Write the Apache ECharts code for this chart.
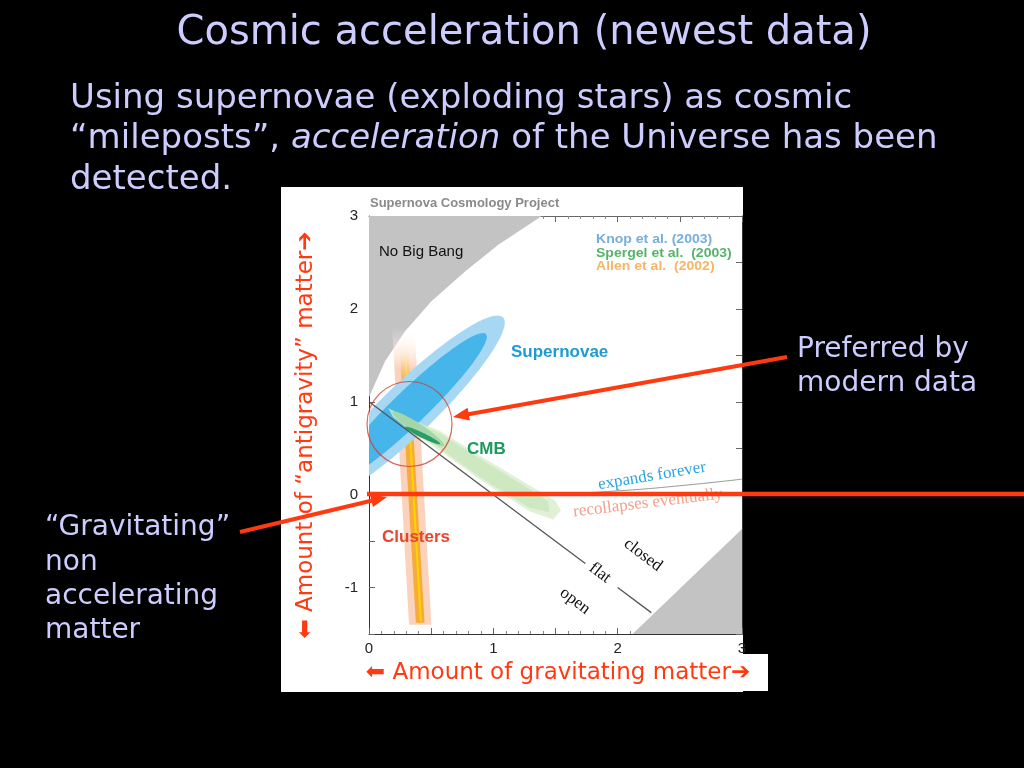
<!DOCTYPE html>
<html><head><meta charset="utf-8">
<script src="https://cdn.jsdelivr.net/npm/echarts@6/dist/echarts.min.js"></script>
<style>html,body{margin:0;padding:0;background:#000;}#c{width:1024px;height:768px;}</style>
</head><body><div id="c"></div>
<script>
// ---------------- data ----------------
const xTicks = [0, 1, 2, 3];
const yTicks = [-1, 0, 1, 2, 3];
// "No Big Bang" region (upper left) and lower-right excluded region
const noBigBang = [[0,1.05],[0.02,1.11],[0.13,1.44],[0.29,1.76],[0.5,2.08],[0.77,2.4],[1.04,2.69],[1.39,3.0],[0,3.0]];
const lowerRight = [[2.12,-1.5],[3,-1.5],[3,-0.37]];
// flat universe line (Omega_M + Omega_L = 1), broken where "flat" is written
const flatA = [[0,1],[1.74,-0.74]];
const flatB = [[2.0,-1.0],[2.27,-1.27]];
// expands forever / recollapses boundary
const expandBoundary = [[1,0],[1.5,0.009],[2,0.041],[2.5,0.096],[3,0.167]];
// Supernovae confidence ellipses (outer, inner): centre, major half-axis, minor half-axis (data units)
const snCenter = [[0.3274,0.9378],[0.3274,0.9378]];
const snMajor  = [[0.7506,0.970],[0.6123,0.7908]];
const snMinor  = [[0.1456,-0.2001],[0.0952,-0.1308]];
// CMB contours
const cmbOuter = [[0.153,0.932],[0.33,0.815],[0.571,0.686],[0.893,0.418],[1.295,0.096],[1.496,-0.064],[1.545,-0.171],[1.48,-0.268],[1.295,-0.182],[0.893,0.161],[0.571,0.472],[0.33,0.686],[0.193,0.836]];
const cmbMid = [[0.33,0.79],[0.57,0.66],[0.89,0.39],[1.29,0.06],[1.44,-0.07],[1.45,-0.19],[1.29,-0.14],[0.89,0.19],[0.57,0.50],[0.33,0.70]];
const cmbCoreCenter = [[0.398,0.7075],[0.4305,0.638]];
const cmbCoreMajor  = [[0.205,-0.1825],[0.1405,-0.091]];
const cmbCoreMinor  = [[-0.0224,-0.0446],[-0.0088,-0.0241]];
// Clusters band
const clusterOuter  = [[0.186,1.8],[0.366,1.8],[0.502,-1.4],[0.322,-1.4]];
const clusterInner  = [[0.243,1.65],[0.313,1.65],[0.447,-1.38],[0.377,-1.38]];
const clusterStripe = [[0.281,1.6],[0.297,1.6],[0.425,-1.36],[0.409,-1.36]];
// preferred region marker
const preferred = [[0.326,0.761]];

// ---------------- helpers ----------------
function clipOf(params){const c=params.coordSys;return {type:'rect',shape:{x:c.x,y:c.y,width:c.width,height:c.height}};}
function polyItem(api, params, pts, fill){
  return {type:'polygon', shape:{points:pts.map(p=>api.coord(p))}, style:{fill:fill}, clipPath:clipOf(params)};
}
function ellipseItem(api, params, c, u, v, fill){
  const pts=[];
  for(let k=0;k<120;k++){const t=k/120*2*Math.PI;
    pts.push(api.coord([c[0]+u[0]*Math.cos(t)+v[0]*Math.sin(t), c[1]+u[1]*Math.cos(t)+v[1]*Math.sin(t)]));}
  return {type:'polygon', shape:{points:pts}, style:{fill:fill}, clipPath:clipOf(params)};
}
function fadeTop(col){
  return new echarts.graphic.LinearGradient(0,0,0,1,[{offset:0,color:'rgba(255,255,255,0)'},{offset:0.14,color:col},{offset:1,color:col}]);
}

const RED='#ff3a10', LAV='#ccccff';
const snFill=['#a6d7f3','#45b5ea'];
const cmbCoreFill=['#a3d6a8','#2c9c66'];

function arrow(x1,y1,x2,y2,w){
  const dx=x2-x1, dy=y2-y1, L=Math.hypot(dx,dy), ux=dx/L, uy=dy/L, hl=16, hw=6.5;
  const bx=x2-ux*hl, by=y2-uy*hl;
  return [
    {type:'line', z:100, shape:{x1:x1,y1:y1,x2:bx+ux*2,y2:by+uy*2}, style:{stroke:RED, lineWidth:w}},
    {type:'polygon', z:100, shape:{points:[[x2,y2],[bx-uy*hw,by+ux*hw],[bx+uy*hw,by-ux*hw]]}, style:{fill:RED}}
  ];
}
function txt(x,y,text,o){
  return {type:'text', x:x, y:y, z:100, style:Object.assign({text:text, fill:LAV, fontSize:28, fontFamily:'DejaVu Sans', align:'left', textAlign:'left', verticalAlign:'middle', textVerticalAlign:'middle'}, o||{})};
}

const chart = echarts.init(document.getElementById('c'), null, {renderer:'canvas'});
const axisCommon = {
  type:'value', splitLine:{show:false},
  axisLine:{show:true, onZero:false, lineStyle:{color:'#333', width:1}},
  axisTick:{show:true, inside:true, length:6, lineStyle:{color:'#666'}}
};
const option = {
  backgroundColor:'#000',
  animation:false,
  grid:{left:369, right:282, top:216, bottom:134, containLabel:false},
  xAxis:[
    Object.assign({}, axisCommon, {min:0, max:3, interval:0.5, position:'bottom',
      minorTick:{show:true, splitNumber:5, length:3, lineStyle:{color:'#888'}},
      axisLabel:{customValues:xTicks, color:'#222', fontSize:15, fontFamily:'Liberation Sans', margin:7}}),
    Object.assign({}, axisCommon, {min:0, max:3, interval:0.5, position:'top',
      axisLine:{show:true, onZero:false, lineStyle:{color:'#666', width:1}},
      minorTick:{show:true, splitNumber:5, length:3, lineStyle:{color:'#888'}},
      axisLabel:{show:false}})
  ],
  yAxis:[
    Object.assign({}, axisCommon, {min:-1.5, max:3, interval:0.5, position:'left',
      axisLabel:{customValues:yTicks, color:'#222', fontSize:15, fontFamily:'Liberation Sans', margin:11}}),
    Object.assign({}, axisCommon, {min:-1.5, max:3, interval:0.5, position:'right', axisLabel:{show:false}})
  ],
  series:[
    {type:'custom', name:'excluded', silent:true, z:1, data:[noBigBang[0], lowerRight[0]],
     renderItem:(params, api)=> polyItem(api, params, [noBigBang, lowerRight][params.dataIndex], '#c3c3c3')},
    {type:'custom', name:'Clusters', silent:true, z:2, data:[clusterOuter[0], clusterInner[0], clusterStripe[0]],
     renderItem:(params, api)=> polyItem(api, params, [clusterOuter, clusterInner, clusterStripe][params.dataIndex],
        fadeTop(['#fbd2bb','#f5ac3c','#ffd200'][params.dataIndex]))},
    {type:'custom', name:'Supernovae', silent:true, z:3, data:snCenter,
     renderItem:(params, api)=> { const i=params.dataIndex; return ellipseItem(api, params, snCenter[i], snMajor[i], snMinor[i], snFill[i]); }},
    {type:'custom', name:'CMB band', silent:true, z:4, data:[cmbOuter[0], cmbMid[0]],
     renderItem:(params, api)=> polyItem(api, params, [cmbOuter, cmbMid][params.dataIndex], ['rgba(214,236,200,0.75)','rgba(200,230,186,0.75)'][params.dataIndex])},
    {type:'custom', name:'CMB core', silent:true, z:5, data:cmbCoreCenter,
     renderItem:(params, api)=> { const i=params.dataIndex; return ellipseItem(api, params, cmbCoreCenter[i], cmbCoreMajor[i], cmbCoreMinor[i], cmbCoreFill[i]); }},
    {type:'line', name:'flat', silent:true, z:6, data:flatA, symbol:'none', lineStyle:{color:'#555', width:1.3}},
    {type:'line', name:'flat2', silent:true, z:6, data:flatB, symbol:'none', lineStyle:{color:'#555', width:1.3}},
    {type:'line', name:'boundary', silent:true, z:6, data:expandBoundary, symbol:'none', smooth:true, lineStyle:{color:'#999', width:1}},
    {type:'scatter', name:'preferred', silent:true, z:7, data:preferred, symbol:'circle', symbolSize:85,
     itemStyle:{color:'rgba(0,0,0,0)', borderColor:'#d8392c', borderWidth:1.2}}
  ],
  graphic:{elements:[
    {type:'rect', z:-5, shape:{x:281, y:187, width:462, height:505}, style:{fill:'#fff'}},
    {type:'rect', z:90, shape:{x:281, y:654, width:487, height:37}, style:{fill:'#fff'}},
    // slide text
    txt(524, 34, 'Cosmic acceleration (newest data)', {fontSize:40, align:'center', textAlign:'center'}),
    txt(70, 99, 'Using supernovae (exploding stars) as cosmic', {fontSize:34}),
    txt(70, 139, '“mileposts”, {i|acceleration} of the Universe has been', {fontSize:34, rich:{i:{fontStyle:'italic', fontSize:34, fontFamily:'DejaVu Sans', fill:LAV, color:LAV}}}),
    txt(70, 180, 'detected.', {fontSize:34}),
    txt(797, 350, 'Preferred by', {fontSize:28}),
    txt(797, 384, 'modern data', {fontSize:28}),
    txt(45, 528, '“Gravitating”', {fontSize:28}),
    txt(45, 563, 'non', {fontSize:28}),
    txt(45, 597, 'accelerating', {fontSize:28}),
    txt(45, 631, 'matter', {fontSize:28}),
    // axis titles
    txt(558, 673, '⬅ Amount of gravitating matter➔', {fontSize:23, fill:RED, align:'center', textAlign:'center'}),
    Object.assign(txt(306, 435, '⬅ Amount of “antigravity” matter➔', {fontSize:23, fill:RED, align:'center', textAlign:'center'}), {rotation:Math.PI/2}),
    // chart texts
    txt(370, 203, 'Supernova Cosmology Project', {fontSize:13, fontFamily:'Liberation Sans', fontWeight:'bold', fill:'#8a8a8a'}),
    txt(379, 252, 'No Big Bang', {fontSize:15, fontFamily:'Liberation Sans', fill:'#111'}),
    Object.assign(txt(596, 240, 'Knop et al. (2003)', {fontSize:12, fontFamily:'Liberation Sans', fontWeight:'bold', fill:'#76aede'}), {scaleX:1.17}),
    Object.assign(txt(596, 254, 'Spergel et al.  (2003)', {fontSize:12, fontFamily:'Liberation Sans', fontWeight:'bold', fill:'#55b36a'}), {scaleX:1.17}),
    Object.assign(txt(596, 267, 'Allen et al.  (2002)', {fontSize:12, fontFamily:'Liberation Sans', fontWeight:'bold', fill:'#f5b665'}), {scaleX:1.17}),
    txt(511, 352, 'Supernovae', {fontSize:17, fontFamily:'Liberation Sans', fontWeight:'bold', fill:'#1e9ad6'}),
    txt(467, 449, 'CMB', {fontSize:17, fontFamily:'Liberation Sans', fontWeight:'bold', fill:'#1c9a5e'}),
    txt(382, 537, 'Clusters', {fontSize:17, fontFamily:'Liberation Sans', fontWeight:'bold', fill:'#e8452c'}),
    Object.assign(txt(652, 476, 'expands forever', {fontSize:17, fontFamily:'Liberation Serif', fill:'#2ba5df', align:'center', textAlign:'center'}), {rotation:0.165}),
    Object.assign(txt(648, 503, 'recollapses eventually', {fontSize:17, fontFamily:'Liberation Serif', fill:'#f2a08c', align:'center', textAlign:'center'}), {rotation:0.12}),
    Object.assign(txt(643, 555, 'closed', {fontSize:17, fontFamily:'Liberation Serif', fill:'#111', align:'center', textAlign:'center'}), {rotation:-0.646}),
    Object.assign(txt(600, 573, 'flat', {fontSize:17, fontFamily:'Liberation Serif', fill:'#111', align:'center', textAlign:'center'}), {rotation:-0.646}),
    Object.assign(txt(575, 601, 'open', {fontSize:17, fontFamily:'Liberation Serif', fill:'#111', align:'center', textAlign:'center'}), {rotation:-0.646}),
    // annotations
    {type:'line', z:100, shape:{x1:367, y1:494, x2:1024, y2:494}, style:{stroke:RED, lineWidth:4.5}},
    ...arrow(787, 357, 453, 417, 4),
    ...arrow(240, 532, 387, 497, 4)
  ]}
};
chart.setOption(option);
</script>
</body></html>
